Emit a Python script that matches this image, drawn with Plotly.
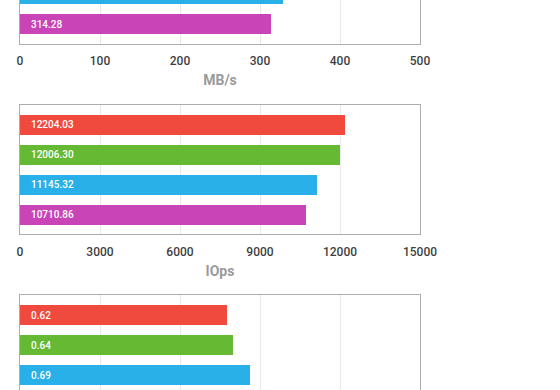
import plotly.graph_objects as go

# ---- data ----
series_names = ["Run A", "Run B", "Run C", "Run D"]
series_colors = ["#F04A3E", "#66B933", "#2AB0E8", "#C944B6"]

mbps_values = [345.0, 340.0, 328.6, 314.28]      # first two are off-screen (estimated)
iops_values = [12204.03, 12006.30, 11145.32, 10710.86]
lat_values = [0.62, 0.64, 0.69, 0.72]            # last one is off-screen (estimated)

mbps_ticks = [0, 100, 200, 300, 400, 500]
iops_ticks = [0, 3000, 6000, 9000, 12000, 15000]
lat_ticks = [0, 0.24, 0.48, 0.72, 0.96, 1.2]

panels = [
    dict(values=mbps_values, ticks=mbps_ticks, title="MB/s", fmt="{:.2f}"),
    dict(values=iops_values, ticks=iops_ticks, title="IOps", fmt="{:.2f}"),
    dict(values=lat_values, ticks=lat_ticks, title="", fmt="{:.2f}"),
]

H = 390.0
# pixel boxes (top, bottom) of each plot area inside the window
boxes = [(0.0, 43.7), (105.0, 234.3), (295.3, 390.0)]
pitch = 30.0  # pixels per category
yranges = [
    [3.65, 3.65 - 43.7 / pitch],
    [3.65, -0.66],
    [-0.66 + (390.0 - 295.3) / pitch, -0.66],
]

fig = go.Figure()
frame = "#adadad"
grid = "#e8e8e8"
font_family = "Roboto, Liberation Sans, Arial, sans-serif"

for i, p in enumerate(panels):
    xa = "x" if i == 0 else f"x{i+1}"
    ya = "y" if i == 0 else f"y{i+1}"
    cats = list(range(len(series_names)))
    fig.add_trace(go.Bar(
        x=p["values"], y=cats, orientation="h",
        marker=dict(color=series_colors, line=dict(width=0)),
        width=0.657, xaxis=xa, yaxis=ya, showlegend=False,
        hoverinfo="skip",
    ))
    for c, v in zip(cats, p["values"]):
        fig.add_annotation(
            x=0, y=c, xref=xa, yref=ya, text=p["fmt"].format(v),
            showarrow=False, xanchor="left", xshift=9,
            font=dict(color="white", size=10, family=font_family, weight=500),
        )
    top, bot = boxes[i]
    dom = [1 - bot / H, 1 - top / H]
    xkey = "xaxis" if i == 0 else f"xaxis{i+1}"
    ykey = "yaxis" if i == 0 else f"yaxis{i+1}"
    xconf = dict(
        domain=[0, 1], range=[p["ticks"][0], p["ticks"][-1]],
        tickvals=p["ticks"], ticktext=[f"{t:g}" for t in p["ticks"]],
        ticks="", showgrid=True, gridcolor=grid,
        gridwidth=1, zeroline=False, showline=True, linecolor=frame,
        linewidth=1, anchor=ya,
        tickfont=dict(size=12, color="#3f3f3f", family=font_family, weight=500),
        fixedrange=True,
    )
    if i == 2:
        xconf.update(side="top", showticklabels=False, mirror=False)
    else:
        xconf.update(mirror=(i == 1), ticklabelstandoff=6,
                     title=dict(text=p["title"],
                                font=dict(size=14, color="#9a9a9a", family=font_family, weight=700),
                                standoff=8))
    yconf = dict(
        domain=dom, range=yranges[i], showticklabels=False, ticks="",
        showgrid=False, zeroline=False, showline=True, mirror=True,
        linecolor=frame, linewidth=1, anchor=xa, fixedrange=True,
    )
    fig.update_layout(**{xkey: xconf, ykey: yconf})

fig.update_layout(
    width=560, height=390,
    margin=dict(l=20, r=140, t=0, b=0),
    paper_bgcolor="white", plot_bgcolor="white",
    bargap=0,
    font=dict(family=font_family),
)

fig.write_html(
    "out.html",
    config={"displayModeBar": False},
    post_script="document.body.style.margin='0';document.body.style.overflow='hidden';",
)
